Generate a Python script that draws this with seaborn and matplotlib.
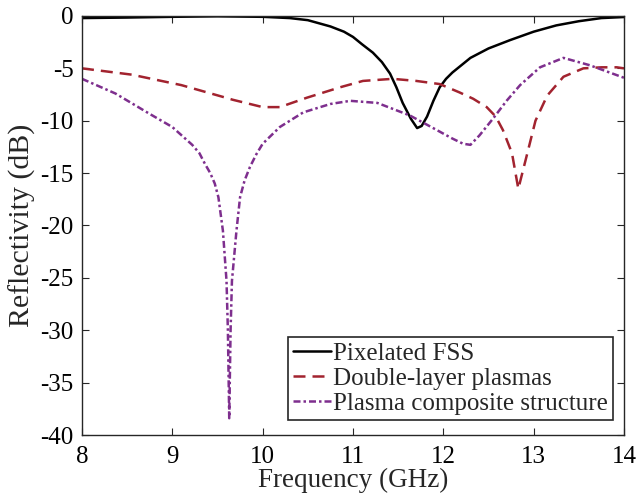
import numpy as np
import pandas as pd
import matplotlib
matplotlib.use("Agg")
import matplotlib.pyplot as plt
import seaborn as sns

# Pixelated FSS
fss_f = [8.0, 8.5, 9.0, 9.5, 10.0, 10.3, 10.5, 10.75, 10.9, 11.0, 11.1, 11.22, 11.32, 11.41, 11.48,
         11.55, 11.64, 11.71, 11.76, 11.82, 11.89, 11.96, 12.03, 12.1, 12.2, 12.3, 12.5, 12.74,
         13.0, 13.25, 13.5, 13.75, 14.0]
fss_r = [-0.2, -0.15, -0.08, -0.03, -0.08, -0.2, -0.4, -1.0, -1.5, -2.0, -2.7, -3.5, -4.4, -5.5, -6.8,
         -8.3, -9.8, -10.7, -10.5, -9.6, -8.1, -6.8, -6.0, -5.4, -4.7, -4.0, -3.1, -2.3,
         -1.5, -0.9, -0.5, -0.2, -0.1]

# Double-layer plasmas
dbl_f = [8.0, 8.55, 9.1, 9.55, 9.67, 10.0, 10.19, 10.49, 10.86, 11.11, 11.44, 11.7, 11.96, 12.18,
         12.33, 12.48, 12.58, 12.66, 12.76, 12.83, 12.93, 13.02, 13.15, 13.33, 13.55, 13.75, 13.92, 14.0]
dbl_r = [-5.0, -5.6, -6.6, -7.7, -8.0, -8.7, -8.7, -7.8, -6.8, -6.2, -6.0, -6.2, -6.5, -7.3,
         -7.9, -8.7, -9.6, -10.9, -13.1, -16.5, -13.1, -10.0, -7.6, -5.8, -5.0, -4.9, -4.9, -5.0]

# Plasma composite structure
cmp_f = [8.0, 8.37, 8.74, 9.0, 9.22, 9.3, 9.36, 9.42, 9.47, 9.51, 9.56, 9.6, 9.615, 9.63, 9.645,
         9.66, 9.71, 9.75, 9.8, 9.86, 9.93, 10.0, 10.19, 10.45, 10.75, 10.97, 11.27, 11.63, 11.93,
         12.1, 12.22, 12.3, 12.4, 12.55, 12.7, 12.85, 13.07, 13.33, 13.62, 14.0]
cmp_r = [-6.0, -7.4, -9.3, -10.6, -12.3, -13.1, -14.1, -15.0, -16.0, -17.3, -20.5, -25.3, -30.0,
         -38.4, -30.0, -25.3, -20.5, -17.3, -15.7, -14.4, -13.2, -12.2, -10.6, -9.2, -8.4, -8.1,
         -8.3, -9.5, -10.9, -11.7, -12.2, -12.3, -11.4, -9.8, -8.1, -6.6, -4.9, -4.0, -4.7, -5.9]

labels = ["Pixelated FSS", "Double-layer plasmas", "Plasma composite structure"]
colors = ["#000000", "#A2232F", "#7E2F8E"]

sns.set_style("ticks")
plt.rcParams["font.family"] = ["Liberation Serif", "DejaVu Serif"]
plt.rcParams["axes.unicode_minus"] = False

fig = plt.figure(figsize=(6.37, 5.04), dpi=100)
ax = fig.add_axes([0.1287, 0.1369, 0.8509, 0.8314])

sets = [(fss_f, fss_r), (dbl_f, dbl_r), (cmp_f, cmp_r)]
styles = ["-", (0, (4.8, 2.8)), (0, (2.8, 1.2, 1.0, 1.2))]
for (f, r), lab, col, ls in zip(sets, labels, colors, styles):
    df = pd.DataFrame({"f": f, "r": r})
    sns.lineplot(data=df, x="f", y="r", ax=ax, color=col, linewidth=1.8,
                 linestyle=ls, label=lab, sort=True, estimator=None)

ax.set_xlim(8, 14)
ax.set_ylim(-40, 0)
ax.set_xticks(range(8, 15))
ax.set_yticks(range(-40, 1, 5))
ax.tick_params(direction="in", top=True, right=True, labelsize=18, length=5, width=0.8,
               colors="#262626", labelcolor="black")
ax.tick_params(axis="x", pad=8)
ax.tick_params(axis="y", pad=6)
ax.set_xlabel("Frequency (GHz)", fontsize=19.5, labelpad=0)
ax.set_ylabel("Reflectivity (dB)", fontsize=21.5, labelpad=3)
for s in ax.spines.values():
    s.set_linewidth(1.0)
    s.set_color("#262626")

leg = ax.legend(loc="lower right", fontsize=18, handlelength=1.5, handletextpad=0.1,
                borderpad=0.2, labelspacing=0.1, fancybox=False, framealpha=1,
                edgecolor="#262626", bbox_to_anchor=(0.980, 0.036), borderaxespad=0)
leg.get_frame().set_linewidth(1.2)

fig.savefig("out.png", dpi=100)
